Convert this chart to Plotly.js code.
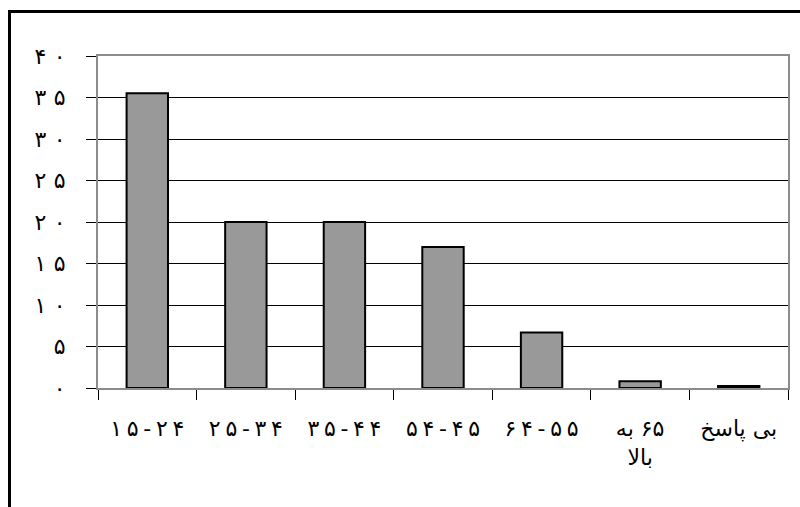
<!DOCTYPE html>
<html>
<head>
<meta charset="utf-8">
<script src="https://cdn.plot.ly/plotly-3.0.1.min.js"></script>
<style>
html,body{margin:0;padding:0;background:#fff;}
#frame{position:absolute;left:8px;top:10px;width:800px;height:510px;border-left:3px solid #000;border-top:3px solid #000;}
#chart{position:absolute;left:0;top:0;width:800px;height:507px;}
</style>
</head>
<body>
<div id="frame"></div>
<div id="chart"></div>
<script>
// Data
const categories = ["۱۵-۲۴", "۲۵-۳۴", "۳۵-۴۴", "۵۴-۴۵", "۶۴-۵۵", "۶۵ به<br>بالا", "بی پاسخ"];
const values = [35.5, 20, 20, 17, 6.7, 0.8, 0.25];
const yTickVals = [0, 5, 10, 15, 20, 25, 30, 35, 40];
const yTickText = ["۰", "۵", "۱۰", "۱۵", "۲۰", "۲۵", "۳۰", "۳۵", "۴۰"];

const trace = {
  type: "bar",
  x: categories,
  y: values,
  marker: {color: "#999999", line: {color: "#000000", width: 2}},
  hoverinfo: "none"
};

const layout = {
  width: 800, height: 507,
  margin: {l: 98, r: 12, t: 56, b: 119, pad: 0},
  paper_bgcolor: "rgba(0,0,0,0)",
  plot_bgcolor: "#ffffff",
  bargap: 0.58,
  showlegend: false,
  font: {family: "DejaVu Sans", color: "#000"},
  xaxis: {
    type: "category",
    tickson: "boundaries",
    tickangle: 0,
    ticks: "outside", ticklen: 10, tickcolor: "#000", tickwidth: 1,
    showline: true, linecolor: "#8c8c8c", linewidth: 2, mirror: true,
    showgrid: false, zeroline: false,
    tickfont: {size: 22, family: "DejaVu Sans"},
    ticklabelstandoff: 20
  },
  yaxis: {
    range: [0, 40],
    tickvals: yTickVals, ticktext: yTickText,
    ticks: "outside", ticklen: 10, tickcolor: "#000", tickwidth: 1,
    showline: true, linecolor: "#8c8c8c", linewidth: 2, mirror: true,
    showgrid: true, gridcolor: "#000", gridwidth: 1,
    zeroline: false,
    tickfont: {size: 22, family: "DejaVu Sans"},
    ticklabelstandoff: 16
  }
};

const SVGNS = "http://www.w3.org/2000/svg";
const arabicLetters = /[\u0621-\u064A\u067E\u06A9\u06AF\u06CC]/;
const persianDigits = /[\u06F0-\u06F9]/;

// Lay out a mixed "digits + word" line in right-to-left reading order
function orderRtlLine(line, anchorX) {
  if (line.querySelector("[data-piece]")) return;
  const words = line.textContent.split(/[\s\u00A0]+/).filter(function (w) { return w.length; });
  if (words.length < 2) return;
  while (line.firstChild) line.removeChild(line.firstChild);
  const pieces = words.slice().reverse().map(function (w) {
    const s = document.createElementNS(SVGNS, "tspan");
    s.setAttribute("data-piece", "1");
    s.textContent = w;
    line.appendChild(s);
    return s;
  });
  const widths = pieces.map(function (s) { return s.getComputedTextLength(); });
  const gap = 7;
  const total = widths.reduce(function (a, b) { return a + b; }, 0) + gap * (pieces.length - 1);
  let left = anchorX - total / 2;
  pieces.forEach(function (s, i) {
    s.setAttribute("x", left + widths[i] / 2);
    left += widths[i] + gap;
  });
}

function styleLabels() {
  document.querySelectorAll(".xtick text").forEach(function (t) {
    if (arabicLetters.test(t.textContent)) {
      const lines = t.querySelectorAll("tspan.line");
      let first = lines.length ? lines[0] : null;
      if (first && persianDigits.test(first.textContent)) {
        const ax = parseFloat(first.getAttribute("x") || t.getAttribute("x") || "0");
        orderRtlLine(first, ax);
      }
    } else {
      t.setAttribute("textLength", "74");
      t.setAttribute("lengthAdjust", "spacing");
    }
  });
  document.querySelectorAll(".ytick text").forEach(function (t) {
    if (t.textContent.length > 1) {
      t.setAttribute("textLength", "31");
      t.setAttribute("lengthAdjust", "spacing");
    }
  });
}

const gd = document.getElementById("chart");
Plotly.newPlot(gd, [trace], layout, {staticPlot: true, displayModeBar: false}).then(function () {
  styleLabels();
  gd.on("plotly_afterplot", styleLabels);
  setTimeout(styleLabels, 0);
  setTimeout(styleLabels, 100);
});
</script>
</body>
</html>
